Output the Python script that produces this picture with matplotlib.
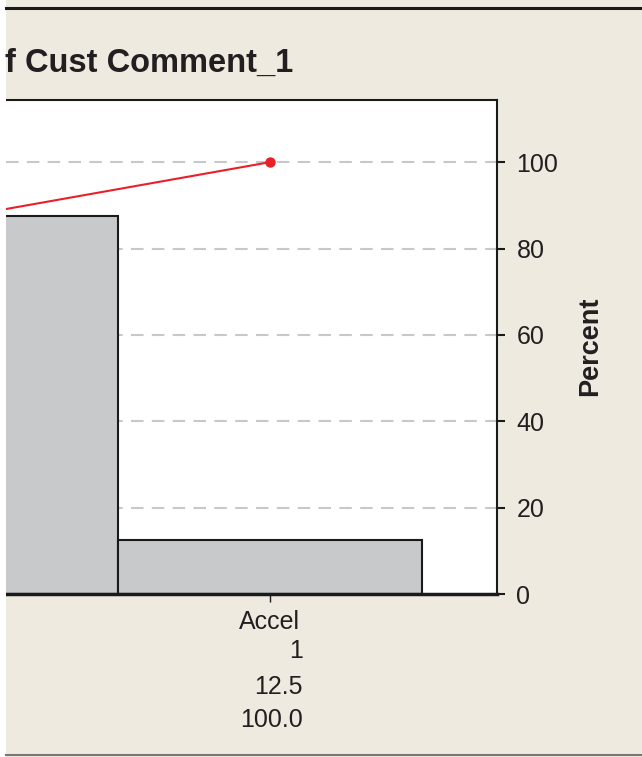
import matplotlib
matplotlib.use("Agg")
import matplotlib.pyplot as plt
from matplotlib.patches import Rectangle
from matplotlib.lines import Line2D
from matplotlib.transforms import blended_transform_factory

plt.rcParams['font.family'] = ['Liberation Sans', 'DejaVu Sans']

# data (pareto of Cust Comment_1, only the right end is visible)
categories = ["Other", "Accel"]
counts = [7, 1]
percents = [87.5, 12.5]
cum_pct = [87.5, 100.0]
yticks = [0, 20, 40, 60, 80, 100]

W, H = 642, 757
bg = '#EEEAE0'
fig = plt.figure(figsize=(W / 100, H / 100), dpi=100, facecolor=bg)

# frame bits of the screenshot
fig.patches.append(Rectangle((0, 0), 6 / W, 1, transform=fig.transFigure,
                             facecolor='white', edgecolor='none', zorder=0))
fig.lines.append(Line2D([6 / W, 1], [1 - 8 / H, 1 - 8 / H], transform=fig.transFigure,
                        color='#1a1a1a', lw=2.2))
fig.lines.append(Line2D([6 / W, 1], [1 - 755 / H, 1 - 755 / H], transform=fig.transFigure,
                        color='#777777', lw=1.5))

# axes box in pixels: left 6, right 497, top 100, bottom 594
ax = fig.add_axes([6 / W, (H - 594) / H, 491 / W, 494 / H])
ax.set_facecolor('white')

x = list(range(len(categories)))
ax.bar(x, percents, width=1.0, color='#C8C9CB', edgecolor='#1a1a1a', linewidth=1.5, zorder=2)
ax.plot(x, cum_pct, color='#E8202A', lw=1.5, marker='o', markersize=6.5, zorder=4, clip_on=True)

ax.set_xlim(0.132, 1.747)
ax.set_ylim(0, 114.4)

for v in yticks[1:]:
    ax.axhline(v, color='#C8C8C8', lw=1.5, dashes=(6, 4), zorder=1)

ax.spines['left'].set_visible(False)
ax.spines['top'].set_color('#1a1a1a')
ax.spines['top'].set_linewidth(1.5)
ax.spines['right'].set_color('#1a1a1a')
ax.spines['right'].set_linewidth(1.5)
ax.spines['bottom'].set_color('#1a1a1a')
ax.spines['bottom'].set_linewidth(2.5)
ax.spines['bottom'].set_zorder(5)

ax.yaxis.tick_right()
ax.set_yticks(yticks)
ax.set_yticklabels([str(v) for v in yticks])
ax.tick_params(axis='y', direction='out', length=6, width=1.5, color='#1a1a1a',
               labelsize=18, labelcolor='#231f20', pad=8)

ax.set_xticks([1])
ax.set_xticklabels([])
ax.tick_params(axis='x', direction='out', length=6, width=1, color='#1a1a1a')

# table under the bars
tr = blended_transform_factory(ax.transData, ax.transAxes)
for i, cat in enumerate(categories):
    if i < 1:
        continue
    ax.annotate(cat, xy=(i, 0), xycoords=tr, xytext=(0, -35 * 0.72),
                textcoords='offset points', ha='center', va='baseline',
                fontsize=18, color='#231f20', annotation_clip=False)
    rows = [str(counts[i]), f"{percents[i]:.1f}", f"{cum_pct[i]:.1f}"]
    for r, off in zip(rows, [64, 100, 133]):
        ax.annotate(r, xy=(i, 0), xycoords=tr, xytext=(33 * 0.72, -off * 0.72),
                    textcoords='offset points', ha='right', va='baseline',
                    fontsize=18, color='#231f20', annotation_clip=False)

fig.text(5 / W, 1 - 72 / H, "f Cust Comment_1", fontsize=23.5, fontweight='bold',
         color='#231f20', ha='left', va='baseline')
fig.text(590 / W, 1 - 346 / H, "Percent", fontsize=19.5, fontweight='bold',
         color='#231f20', rotation=90, ha='center', va='center')

fig.savefig("out.png", dpi=100, facecolor=bg)
